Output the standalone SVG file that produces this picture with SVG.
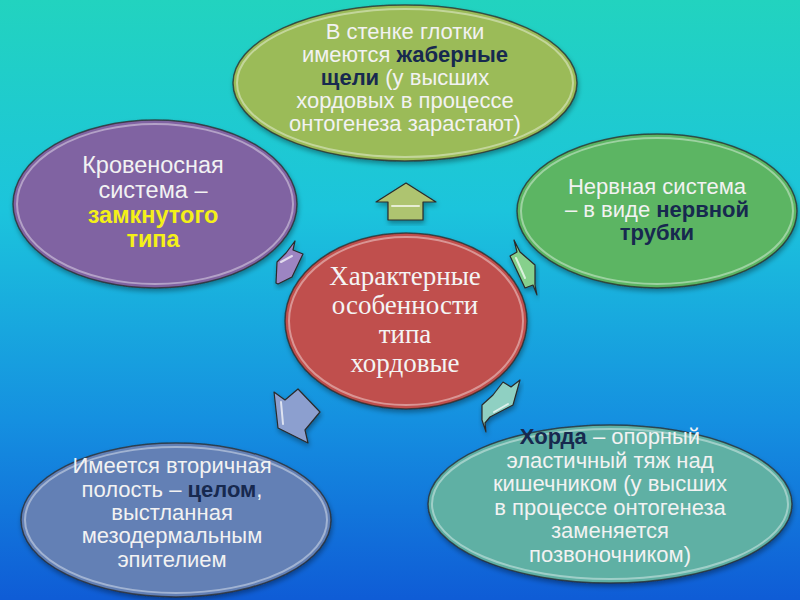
<svg xmlns="http://www.w3.org/2000/svg" width="800" height="600" viewBox="0 0 800 600">
<defs>
<linearGradient id="bg" x1="0" y1="0" x2="0" y2="1">
<stop offset="0" stop-color="#22d3bf"/>
<stop offset="0.35" stop-color="#1cc4dc"/>
<stop offset="0.7" stop-color="#1590e0"/>
<stop offset="1" stop-color="#0f5cd6"/>
</linearGradient>
<filter id="sh" x="-10%" y="-10%" width="120%" height="125%">
<feDropShadow dx="1" dy="3" stdDeviation="2.5" flood-color="#000" flood-opacity="0.35"/>
</filter>
</defs>
<style>
.node{stroke:#2a2a2a;stroke-opacity:0.75;stroke-width:1.5;filter:url(#sh)}
.bev{fill:none;stroke:#fff;stroke-opacity:0.4;stroke-width:2}
.t{font-family:"Liberation Sans",Arial,sans-serif;font-size:22px;fill:#f2f2f2;text-anchor:middle}
.b{font-weight:bold;fill:#17294f}
.y{font-weight:bold;fill:#f4f018}
.c{font-family:"Liberation Serif","Times New Roman",serif;font-size:27px;fill:#f4f4f4;text-anchor:middle}
.arr{stroke:#2a2a2a;stroke-width:1.2;stroke-linejoin:round;filter:url(#sh)}
.hl{fill:none;stroke:#fff;stroke-opacity:0.7;stroke-width:2;stroke-linecap:round}
</style>
<rect width="800" height="600" fill="url(#bg)"/>

<g id="connectors">
<polygon class="arr" fill="#aec470" points="406,183 436,202 423,202 423,220 388,220 388,202 376,202"/>
<path class="hl" d="M392,206 L419,206"/>
<polygon class="arr" fill="#9d85c2" points="295,241 293,250 303,254 292,277 278,284 276,283 277,262 286,253"/>
<path class="hl" d="M281,262 L292,256"/>
<polygon class="arr" fill="#86d08c" points="514,240 520,252 535,265 535,285 537,295 533,285 525,288 510,256 517,252"/>
<path class="hl" d="M516,258 L525,278"/>
<polygon class="arr" fill="#8fd0c2" points="503,382 511,387 520,380 513,405 490,417 485,423 486,432 482,420 482,405 493,395"/>
<path class="hl" d="M494,412 L508,404"/>
<polygon class="arr" fill="#8c9fcf" points="274,392 285,400 298,389 320,412 305,430 308,443 278,428"/>
<path class="hl" d="M281,402 L283,424"/>
</g>

<g id="node-center">
<ellipse class="node" cx="406" cy="321" rx="121" ry="88" fill="#c0504d"/>
<ellipse class="bev" cx="406" cy="321" rx="117" ry="84"/>
<text class="c"><tspan x="405" y="285">Характерные</tspan><tspan x="405" y="314">особенности</tspan><tspan x="405" y="343">типа</tspan><tspan x="405" y="372">хордовые</tspan></text>
</g>

<g id="node-top">
<ellipse class="node" cx="405" cy="83" rx="172" ry="78" fill="#9bbb59"/>
<ellipse class="bev" cx="405" cy="83" rx="168" ry="74"/>
<text class="t"><tspan x="405" y="39">В стенке глотки</tspan><tspan x="405" y="62">имеются <tspan class="b">жаберные</tspan></tspan><tspan x="405" y="85"><tspan class="b">щели</tspan> (у высших</tspan><tspan x="405" y="108">хордовых в процессе</tspan><tspan x="405" y="131">онтогенеза зарастают)</tspan></text>
</g>

<g id="node-left">
<ellipse class="node" cx="155" cy="204" rx="142" ry="84" fill="#8064a2"/>
<ellipse class="bev" cx="155" cy="204" rx="138" ry="80"/>
<text class="t" style="font-size:23.5px"><tspan x="153" y="173">Кровеносная</tspan><tspan x="153" y="198">система –</tspan><tspan x="153" y="222.5" class="y">замкнутого</tspan><tspan x="153" y="247" class="y">типа</tspan></text>
</g>

<g id="node-right">
<ellipse class="node" cx="657" cy="211" rx="140" ry="77" fill="#5cb563"/>
<ellipse class="bev" cx="657" cy="211" rx="136" ry="73"/>
<text class="t"><tspan x="657" y="194">Нервная система</tspan><tspan x="657" y="217">– в виде <tspan class="b">нервной</tspan></tspan><tspan x="657" y="240" class="b">трубки</tspan></text>
</g>

<g id="node-bottom-right">
<ellipse class="node" cx="610" cy="504" rx="182" ry="79" fill="#5fb0a4"/>
<ellipse class="bev" cx="610" cy="504" rx="178" ry="75"/>
<text class="t"><tspan x="610" y="444"><tspan class="b">Хорда</tspan> – опорный</tspan><tspan x="610" y="467.5">эластичный тяж над</tspan><tspan x="610" y="491">кишечником (у высших</tspan><tspan x="610" y="514.5">в процессе онтогенеза</tspan><tspan x="610" y="538">заменяется</tspan><tspan x="610" y="561.5">позвоночником)</tspan></text>
</g>

<g id="node-bottom-left">
<ellipse class="node" cx="176" cy="520" rx="155" ry="77" fill="#6380b5"/>
<ellipse class="bev" cx="176" cy="520" rx="151" ry="73"/>
<text class="t"><tspan x="172" y="473">Имеется вторичная</tspan><tspan x="172" y="497">полость – <tspan class="b">целом</tspan>,</tspan><tspan x="172" y="520">выстланная</tspan><tspan x="172" y="543">мезодермальным</tspan><tspan x="172" y="567">эпителием</tspan></text>
</g>
</svg>
